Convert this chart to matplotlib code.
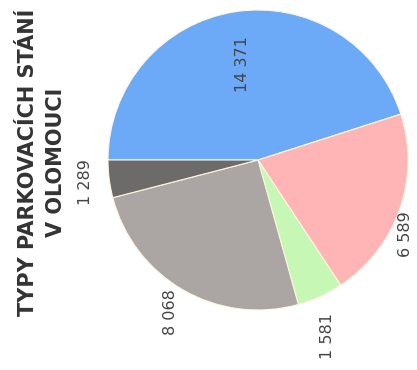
import numpy as np
import matplotlib
matplotlib.use("Agg")
import matplotlib.pyplot as plt

# data (clockwise from the left)
values = [14371, 6589, 1581, 8068, 1289]
labels = ["14 371", "6 589", "1 581", "8 068", "1 289"]
colors = ["#6caaf7", "#ffb5b5", "#c6f7b4", "#aba6a3", "#6d6a6a"]
title = "TYPY PARKOVACÍCH STÁNÍ\nV OLOMOUCI"

# label placement (distance from centre, vertical alignment)
label_dist = [0.65, 1.04, 1.12, 1.17, 1.16]
label_va = ["center", "top", "top", "center", "center"]

fig = plt.figure(figsize=(4.17, 3.70), dpi=100)
ax = fig.add_axes([108 / 417, 1 - 310 / 370, 300 / 417, 300 / 370])

wedges, _ = ax.pie(values, colors=colors, startangle=180, counterclock=False,
                   radius=1, wedgeprops=dict(edgecolor="#fdf6e0", linewidth=0.8))

for w, lab, r, va in zip(wedges, labels, label_dist, label_va):
    mid = np.deg2rad((w.theta1 + w.theta2) / 2)
    ax.text(r * np.cos(mid), r * np.sin(mid), lab, rotation=90,
            ha="center", va=va, fontsize=11.5, color="#444444")

ax.set_xlim(-1, 1)
ax.set_ylim(-1, 1)
ax.set_aspect("equal")
ax.axis("off")

fig.text(42 / 417, 1 - 162 / 370, title, rotation=90, ha="center", va="center",
         multialignment="center", fontsize=15, fontweight="bold",
         color="#333333", linespacing=1.5)

fig.savefig("out.png", dpi=100)
